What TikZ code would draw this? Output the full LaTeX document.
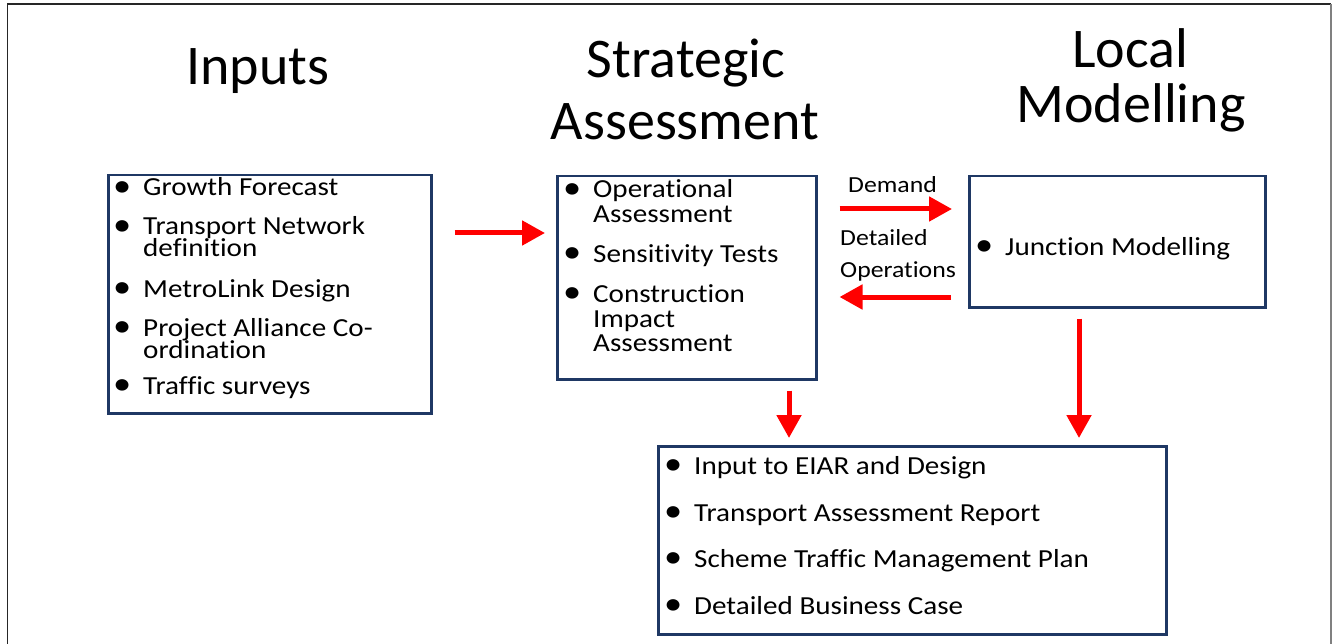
\documentclass[tikz,border=0pt]{standalone}
\usepackage{fontspec}
\setmainfont{Carlito}[Ligatures=NoCommon]
\newfontfamily\bodyfont{Carlito}[FakeStretch=1.12, Ligatures=NoCommon]
\usetikzlibrary{arrows.meta}
\definecolor{navy}{RGB}{31,56,100}
\definecolor{flowred}{RGB}{255,0,0}
\newcommand\bul{\makebox[30pt][l]{\raisebox{-0.5pt}{\scalebox{1.25}{•}}}}
\tikzset{
  panel/.style={draw=navy, line width=2.5pt, inner sep=0pt, anchor=north west},
  item/.style={anchor=base west, inner sep=0pt, font=\bodyfont\fontsize{26}{30}\selectfont},
  heading/.style={anchor=base, inner sep=0pt, font=\fontsize{56}{60}\selectfont},
  lbl/.style={anchor=base west, inner sep=0pt, font=\bodyfont\fontsize{23}{26}\selectfont},
  flow/.style={draw=flowred, line width=5pt, -{Triangle[length=23pt,width=24pt]}}
}
\begin{document}
\begin{tikzpicture}[x=1pt,y=-1pt]
\useasboundingbox (0,0) rectangle (1335,644);
% page frame
\draw[black!85, line width=1.5pt] (7.5,644) -- (7.5,4) -- (1330.5,4);
\draw[gray, line width=2pt] (1330.5,4) -- (1330.5,644);

% column headings
\node[heading] (hIn) at (258,85) {Inputs};
\node[heading] (hSa) at (686,78) {Strategic};
\node[heading] (hSb) at (685,140) {Assessment};
\node[heading] (hLa) at (1130,68) {Local};
\node[heading] (hLb) at (1131,123) {Modelling};

% boxes
\node[panel, minimum width=323pt, minimum height=238pt] (inputs) at (107,174) {};
\node[panel, minimum width=259pt, minimum height=203pt] (strat) at (556,175) {};
\node[panel, minimum width=296pt, minimum height=131pt] (local) at (968,175) {};
\node[panel, minimum width=508pt, minimum height=188pt] (out) at (657,445) {};

% inputs list
\node[item] (i1) at (113,196) {\bul Growth Forecast};
\node[item] (i2) at (113,235) {\bul Transport Network};
\node[item] (i2b) at (143,257) {definition};
\node[item] (i3) at (113,297) {\bul MetroLink Design};
\node[item] (i4) at (113,336) {\bul Project Alliance Co-};
\node[item] (i4b) at (143,358) {ordination};
\node[item] (i5) at (113,394) {\bul Traffic surveys};

% strategic assessment list
\node[item] (s1) at (563,198) {\bul Operational};
\node[item] (s1b) at (593,223) {Assessment};
\node[item] (s2) at (563,262) {\bul Sensitivity Tests};
\node[item] (s3) at (563,302) {\bul Construction};
\node[item] (s3b) at (593,327) {Impact};
\node[item] (s3c) at (593,351) {Assessment};

% local modelling list
\node[item] (l1) at (975,255) {\bul Junction Modelling};

% outputs list
\node[item] (o1) at (664,474) {\bul Input to EIAR and Design};
\node[item] (o2) at (664,521) {\bul Transport Assessment Report};
\node[item] (o3) at (664,567) {\bul Scheme Traffic Management Plan};
\node[item] (o4) at (664,614) {\bul Detailed Business Case};

% flow labels
\node[lbl] (dem) at (848,193) {Demand};
\node[lbl] (det) at (840,246) {Detailed};
\node[lbl] (ops) at (840,277) {Operations};

% flows
\draw[flow, shorten <=22pt, shorten >=11pt] (inputs.east |- 0,233) -- (strat.west |- 0,233);
\draw[flow, shorten <=22pt, shorten >=16pt] (strat.east |- 0,209) -- (local.west |- 0,209);
\draw[flow, shorten <=17pt, shorten >=22pt] (local.west |- 0,297) -- (strat.east |- 0,297);
\draw[flow, shorten <=10pt, shorten >=7pt] (strat.south -| 789,0) -- (out.north -| 789,0);
\draw[flow, shorten <=10pt, shorten >=7pt] (local.south -| 1079,0) -- (out.north -| 1079,0);
\end{tikzpicture}
\end{document}
